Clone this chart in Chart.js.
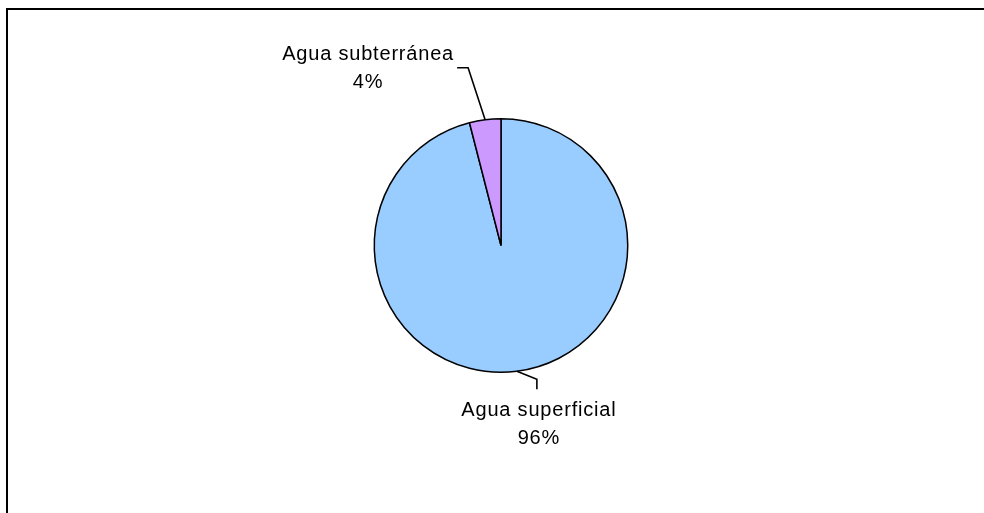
<!DOCTYPE html>
<html>
<head>
<meta charset="utf-8">
<script src="https://cdn.jsdelivr.net/npm/chart.js@4/dist/chart.umd.min.js"></script>
<style>
  html, body { margin: 0; padding: 0; background: #fff; }
  #wrap { width: 984px; height: 513px; position: relative; }
</style>
</head>
<body>
<div id="wrap"><canvas id="pieChart" width="984" height="513"></canvas></div>
<script>
const categories = ["Agua superficial", "Agua subterránea"];
const shares = [96, 4];
const percentLabels = ["96%", "4%"];
const sliceColors = ["#99CCFF", "#CC99FF"];

// frame: only top and left edges are visible in the original
const framePlugin = {
  id: "frame",
  beforeDraw(chart) {
    const ctx = chart.ctx;
    ctx.save();
    ctx.fillStyle = "#000";
    ctx.fillRect(6, 8, chart.width, 2);
    ctx.fillRect(6, 8, 2, chart.height);
    ctx.restore();
  },
};

// leader lines + two-line labels, placed from each arc's mid angle
const labelPlugin = {
  id: "pieLabels",
  afterDatasetsDraw(chart) {
    const ctx = chart.ctx;
    const arcs = chart.getDatasetMeta(0).data;
    const layouts = [
      { elbow: [20, 8], end: [0, 10], textDx: 2, baseDy: 37 },
      { elbow: [-17, -52], end: [-11, 0], textDx: -100, baseDy: -8 },
    ];
    ctx.save();
    ctx.strokeStyle = "#000";
    ctx.lineWidth = 1.6;
    ctx.fillStyle = "#000";
    ctx.font = "20px 'Liberation Sans', Arial, sans-serif";
    ctx.letterSpacing = "0.8px";
    ctx.textAlign = "center";
    ctx.textBaseline = "alphabetic";
    arcs.forEach((arc, i) => {
      const p = arc.getProps(["x", "y", "startAngle", "endAngle", "outerRadius"], true);
      const mid = (p.startAngle + p.endAngle) / 2;
      const ex = p.x + Math.cos(mid) * p.outerRadius;
      const ey = p.y + Math.sin(mid) * p.outerRadius;
      const l = layouts[i];
      const bx = ex + l.elbow[0];
      const by = ey + l.elbow[1];
      const cx = bx + l.end[0];
      const cy = by + l.end[1];
      ctx.beginPath();
      ctx.moveTo(ex, ey);
      ctx.lineTo(bx, by);
      ctx.lineTo(cx, cy);
      ctx.stroke();
      const tx = bx + l.textDx;
      const ty = by + l.baseDy;
      ctx.fillText(categories[i], tx, ty);
      ctx.fillText(percentLabels[i], tx, ty + 28);
    });
    ctx.restore();
  },
};

new Chart(document.getElementById("pieChart"), {
  type: "pie",
  data: {
    labels: categories,
    datasets: [
      {
        data: shares,
        backgroundColor: sliceColors,
        borderColor: "#000",
        borderWidth: 1.5,
      },
    ],
  },
  options: {
    responsive: false,
    animation: false,
    layout: { padding: { left: 18, right: 0, top: 118, bottom: 140 } },
    plugins: {
      legend: { display: false },
      tooltip: { enabled: false },
    },
  },
  plugins: [framePlugin, labelPlugin],
});
</script>
</body>
</html>
